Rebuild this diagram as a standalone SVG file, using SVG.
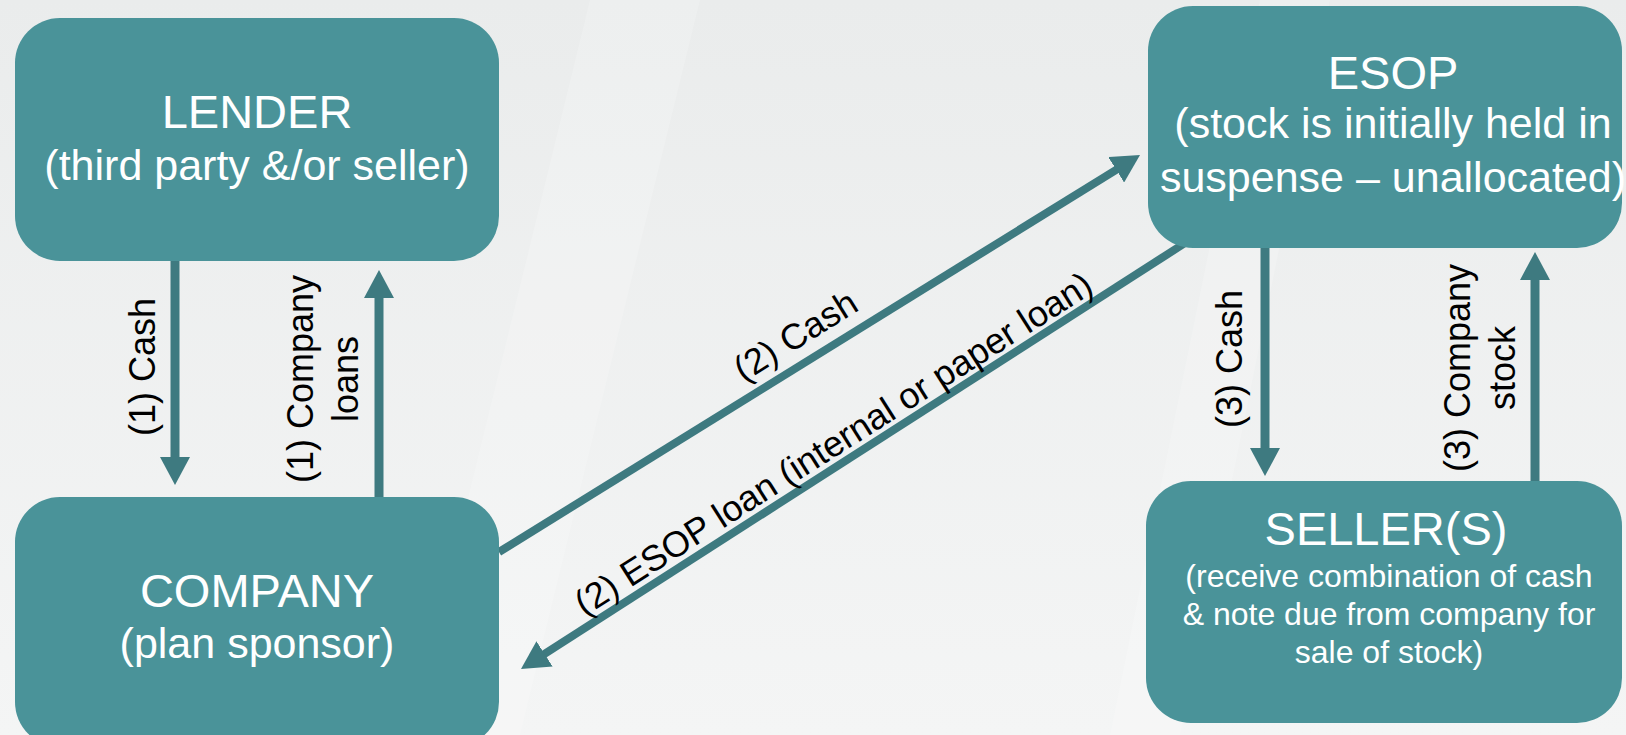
<svg xmlns="http://www.w3.org/2000/svg" width="1626" height="735" viewBox="0 0 1626 735">
  <defs>
    <linearGradient id="bg" x1="0" y1="0" x2="0" y2="1">
      <stop offset="0" stop-color="#eaecec"/>
      <stop offset="1" stop-color="#f4f5f5"/>
    </linearGradient>
    <marker id="head" markerUnits="userSpaceOnUse" markerWidth="28" markerHeight="30" refX="18" refY="15" orient="auto">
      <path d="M0,0 L28,15 L0,30 z" fill="#3e7a80"/>
    </marker>
  </defs>
  <style>
    .box { fill: #4a9399; }
    .title { font-family: "Liberation Sans", Arial, sans-serif; font-size: 47px; fill: #ffffff; text-anchor: middle; }
    .sub { font-family: "Liberation Sans", Arial, sans-serif; font-size: 43px; fill: #ffffff; text-anchor: middle; }
    .small { font-family: "Liberation Sans", Arial, sans-serif; font-size: 32px; fill: #ffffff; text-anchor: middle; }
    .conn { stroke: #3e7a80; fill: none; marker-end: url(#head); }
    .v { stroke-width: 9; }
    .d { stroke-width: 8; }
    .lbl { font-family: "Liberation Sans", Arial, sans-serif; font-size: 36px; fill: #000000; text-anchor: middle; }
    .streak { fill: #ffffff; opacity: 0.18; }
  </style>
  <rect x="0" y="0" width="1626" height="735" fill="url(#bg)"/>
  <polygon class="streak" points="590,0 700,0 520,735 410,735"/>
  <polygon class="streak" points="1260,0 1330,0 1180,735 1110,735"/>

  <g id="connectors">
    <line class="conn v" x1="175" y1="257" x2="175" y2="475"/>
    <line class="conn v" x1="379" y1="498" x2="379" y2="280"/>
    <line class="conn v" x1="1265" y1="247" x2="1265" y2="466"/>
    <line class="conn v" x1="1535" y1="482" x2="1535" y2="262"/>
    <line class="conn d" x1="499" y1="552" x2="1131.5" y2="160.3"/>
    <line class="conn d" x1="1185" y1="243" x2="529.4" y2="663.6"/>
    <text class="lbl" transform="translate(155,367) rotate(-90)">(1) Cash</text>
    <text class="lbl" transform="translate(313,379) rotate(-90)">(1) Company</text>
    <text class="lbl" transform="translate(358,379) rotate(-90)">loans</text>
    <text class="lbl" transform="translate(1242,359) rotate(-90)">(3) Cash</text>
    <text class="lbl" transform="translate(1470,368) rotate(-90)">(3) Company</text>
    <text class="lbl" transform="translate(1515,368) rotate(-90)">stock</text>
    <text class="lbl" transform="translate(802,346) rotate(-32)">(2) Cash</text>
    <text class="lbl" transform="translate(840,454) rotate(-32.5)">(2) ESOP loan (internal or paper loan)</text>
  </g>

  <g id="lender">
    <rect class="box" x="15" y="18" width="484" height="243" rx="45" ry="45"/>
    <text class="title" x="257" y="128">LENDER</text>
    <text class="sub" x="257" y="180">(third party &amp;/or seller)</text>
  </g>

  <g id="company">
    <rect class="box" x="15" y="497" width="484" height="250" rx="45" ry="45"/>
    <text class="title" x="257" y="607">COMPANY</text>
    <text class="sub" x="257" y="658">(plan sponsor)</text>
  </g>

  <g id="esop">
    <rect class="box" x="1148" y="6" width="474" height="242" rx="45" ry="45"/>
    <text class="title" x="1393" y="89">ESOP</text>
    <text class="sub" x="1393" y="138">(stock is initially held in</text>
    <text class="sub" x="1393" y="192">suspense – unallocated)</text>
  </g>

  <g id="sellers">
    <rect class="box" x="1146" y="481" width="476" height="242" rx="45" ry="45"/>
    <text class="title" x="1386" y="545">SELLER(S)</text>
    <text class="small" x="1389" y="587">(receive combination of cash</text>
    <text class="small" x="1389" y="625">&amp; note due from company for</text>
    <text class="small" x="1389" y="663">sale of stock)</text>
  </g>
</svg>
